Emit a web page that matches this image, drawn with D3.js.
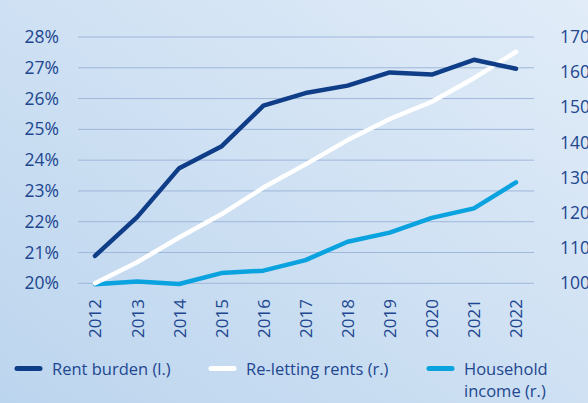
<!DOCTYPE html>
<html><head><meta charset="utf-8">
<script src="https://cdn.jsdelivr.net/npm/d3@7/dist/d3.min.js"></script>
<style>html,body{margin:0;padding:0;overflow:hidden;}svg{display:block;}</style>
</head><body>
<svg id="chart" width="588" height="403"></svg>
<script>
const years = [2012,2013,2014,2015,2016,2017,2018,2019,2020,2021,2022];
const rentBurden = [20.89,22.15,23.74,24.44,25.77,26.18,26.42,26.85,26.78,27.26,26.97];
const reletting = [100,106,113,119.6,127.2,133.8,140.7,146.7,151.6,158.3,165.8];
const income = [99.7,100.5,99.8,102.9,103.6,106.6,111.8,114.4,118.6,121.3,128.7];
const leftTicks = [20,21,22,23,24,25,26,27,28];
const rightTicks = [100,110,120,130,140,150,160,170];
const legendLabels = [["Rent burden (l.)"],["Re-letting rents (r.)"],["Household","income (r.)"]];

const colors = {burden:"#0f3d87", relet:"#ffffff", income:"#0aa3df", text:"#21468f", grid:"#9fb7da"};
const svg = d3.select("#chart");
const W=588,H=403;
const defs = svg.append("defs");
const g = defs.append("linearGradient").attr("id","bg").attr("x1","0").attr("y1","1").attr("x2","1").attr("y2","0");
g.append("stop").attr("offset","0").attr("stop-color","#bcd5ee");
g.append("stop").attr("offset","1").attr("stop-color","#e1ecf8");
svg.append("rect").attr("width",W).attr("height",H).attr("fill","url(#bg)");

const x = d3.scaleLinear().domain([2012,2022]).range([95,516]);
const yL = d3.scaleLinear().domain([20,28]).range([283.3,37]);
const yR = d3.scaleLinear().domain([100,170]).range([283.3,37]);
const font = "'Open Sans', 'Noto Sans', sans-serif";

// gridlines
svg.append("g").selectAll("line").data(leftTicks).join("line")
  .attr("x1",78).attr("x2",534).attr("y1",d=>yL(d)).attr("y2",d=>yL(d))
  .attr("stroke",colors.grid).attr("stroke-width",1);

// left axis
const axL = svg.append("g").attr("transform","translate(59,0)")
  .call(d3.axisLeft(yL).tickValues(leftTicks).tickSize(0).tickPadding(0).tickFormat(d=>d+"%"));
axL.select(".domain").remove();
axL.selectAll("text").attr("font-family",font).attr("font-size",17.5).attr("fill",colors.text);

// right axis
const axR = svg.append("g").attr("transform","translate(560,0)")
  .call(d3.axisRight(yR).tickValues(rightTicks).tickSize(0).tickPadding(0));
axR.select(".domain").remove();
axR.selectAll("text").attr("font-family",font).attr("font-size",17.5).attr("fill",colors.text);

// x axis
const axX = svg.append("g").attr("transform","translate(0,299)")
  .call(d3.axisBottom(x).tickValues(years).tickSize(0).tickPadding(0).tickFormat(d3.format("d")));
axX.select(".domain").remove();
axX.selectAll("text").attr("font-family",font).attr("font-size",17).attr("fill",colors.text)
  .attr("transform","rotate(-90)").attr("text-anchor","end").attr("x",0).attr("y",0).attr("dy","0.35em");

const line = (ys,yScale)=>d3.line().x((d,i)=>x(years[i])).y(d=>yScale(d))(ys);
svg.append("path").attr("d",line(income,yR)).attr("fill","none").attr("stroke",colors.income).attr("stroke-width",4.5).attr("stroke-linecap","round").attr("stroke-linejoin","round");
svg.append("path").attr("d",line(reletting,yR)).attr("fill","none").attr("stroke",colors.relet).attr("stroke-width",4.5).attr("stroke-linecap","round").attr("stroke-linejoin","round");
svg.append("path").attr("d",line(rentBurden,yL)).attr("fill","none").attr("stroke",colors.burden).attr("stroke-width",4.5).attr("stroke-linecap","round").attr("stroke-linejoin","round");

// legend
const legColors=[colors.burden,colors.relet,colors.income];
const legX=[17,211,429];
legendLabels.forEach((lines,i)=>{
  svg.append("line").attr("x1",legX[i]).attr("x2",legX[i]+23).attr("y1",368.5).attr("y2",368.5)
    .attr("stroke",legColors[i]).attr("stroke-width",5).attr("stroke-linecap","round");
  const t = svg.append("text").attr("x",legX[i]+35).attr("y",375).attr("font-family",font).attr("font-size",16.5).attr("fill",colors.text);
  lines.forEach((l,j)=>t.append("tspan").attr("x",legX[i]+35).attr("dy",j===0?0:22).text(l));
});
</script>
</body></html>
